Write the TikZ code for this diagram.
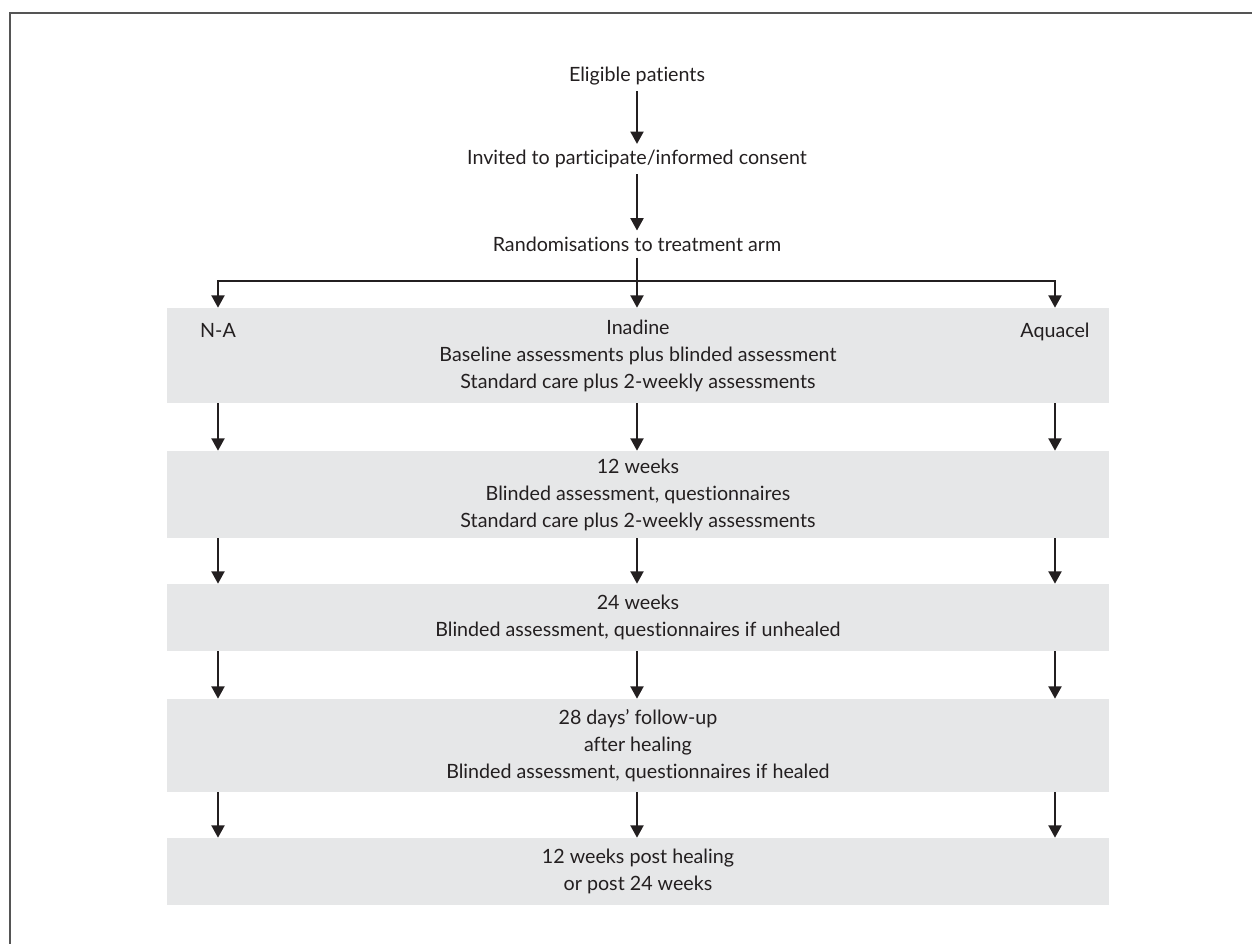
\documentclass[tikz,border=0pt]{standalone}
\usepackage{fontspec}
\setmainfont[Ligatures=NoCommon]{Lato}
\usetikzlibrary{arrows.meta}
\definecolor{boxgray}{HTML}{E6E7E8}
\definecolor{ink}{HTML}{231F20}
\definecolor{framegray}{HTML}{555555}

\begin{document}
\begin{tikzpicture}[x=0.02cm, y=-0.02cm,
  every node/.style={font=\fontsize{11.2}{15.4}\selectfont, text=ink, align=center},
  stage/.style={fill=boxgray, inner sep=0pt, minimum width=18.86cm},
  arr/.style={draw=ink, line width=0.85pt, -{Triangle[width=7.5pt,length=7pt]}}]
  \useasboundingbox (0,0) rectangle (1252,944);
  \draw[framegray, line width=1.2pt] (10,944) -- (10,13) -- (1252,13);

  \node (elig) at (637,76) {Eligible patients};
  \node (inv) at (637,159) {Invited to participate/informed consent};
  \node (rand) at (637,244) {Randomisations to treatment arm};
  \coordinate (split) at (637,281);

  \node[stage, minimum height=1.9cm] (base) at (638,355.5)
    {Inadine\\Baseline assessments plus blinded assessment\\Standard care plus 2-weekly assessments};
  \node[anchor=base] (na) at (218,337) {N-A};
  \node[anchor=base] (aqu) at (1055,337) {Aquacel};
  \node[stage, minimum height=1.74cm] (wk12) at (638,494.5)
    {12 weeks\\Blinded assessment, questionnaires\\Standard care plus 2-weekly assessments};
  \node[stage, minimum height=1.34cm] (wk24) at (638,617.5)
    {24 weeks\\Blinded assessment, questionnaires if unhealed};
  \node[stage, minimum height=1.86cm] (fu28) at (638,745.5)
    {28 days’ follow-up\\after healing\\Blinded assessment, questionnaires if healed};
  \node[stage, minimum height=1.34cm] (post) at (638,871.5)
    {12 weeks post healing\\or post 24 weeks};

  \draw[arr] (elig) -- (inv);
  \draw[arr] (inv) -- (rand);
  \draw[arr] (rand) -- (base.north -| rand);
  \draw[arr] (split) -| (base.north -| na);
  \draw[arr] (split) -| (base.north -| aqu);

  \draw[arr] (base.south -| na) -- (wk12.north -| na);
  \draw[arr] (base.south -| rand) -- (wk12.north -| rand);
  \draw[arr] (base.south -| aqu) -- (wk12.north -| aqu);
  \draw[arr] (wk12.south -| na) -- (wk24.north -| na);
  \draw[arr] (wk12.south -| rand) -- (wk24.north -| rand);
  \draw[arr] (wk12.south -| aqu) -- (wk24.north -| aqu);
  \draw[arr] (wk24.south -| na) -- (fu28.north -| na);
  \draw[arr] (wk24.south -| rand) -- (fu28.north -| rand);
  \draw[arr] (wk24.south -| aqu) -- (fu28.north -| aqu);
  \draw[arr] (fu28.south -| na) -- (post.north -| na);
  \draw[arr] (fu28.south -| rand) -- (post.north -| rand);
  \draw[arr] (fu28.south -| aqu) -- (post.north -| aqu); % last row
\end{tikzpicture}
\end{document}
